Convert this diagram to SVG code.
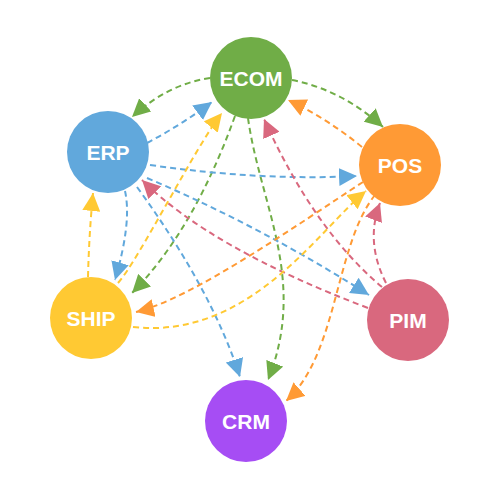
<svg xmlns="http://www.w3.org/2000/svg" width="500" height="500" viewBox="0 0 500 500">
<style>
.e{fill:none;stroke-width:2;stroke-dasharray:6,4}
.g{stroke:#70AD47}.b{stroke:#61A8DC}.o{stroke:#FF9A35}.r{stroke:#D9687E}.y{stroke:#FFC933}
.n text{fill:#fff;font-family:"Liberation Sans",Arial,sans-serif;font-weight:bold;font-size:21px;text-anchor:middle}
</style>
<defs>
<marker id="mg" markerUnits="userSpaceOnUse" markerWidth="19" markerHeight="18" refX="18" refY="9" orient="auto"><path d="M0,0L18,9L0,18Z" fill="#70AD47"/></marker>
<marker id="mb" markerUnits="userSpaceOnUse" markerWidth="19" markerHeight="18" refX="18" refY="9" orient="auto"><path d="M0,0L18,9L0,18Z" fill="#61A8DC"/></marker>
<marker id="mo" markerUnits="userSpaceOnUse" markerWidth="19" markerHeight="18" refX="18" refY="9" orient="auto"><path d="M0,0L18,9L0,18Z" fill="#FF9A35"/></marker>
<marker id="mr" markerUnits="userSpaceOnUse" markerWidth="19" markerHeight="18" refX="18" refY="9" orient="auto"><path d="M0,0L18,9L0,18Z" fill="#D9687E"/></marker>
<marker id="my" markerUnits="userSpaceOnUse" markerWidth="19" markerHeight="18" refX="18" refY="9" orient="auto"><path d="M0,0L18,9L0,18Z" fill="#FFC933"/></marker>
</defs>
<g id="connectors">
<path class="e g" marker-end="url(#mg)" d="M210,78 Q168,84 132,117"/>
<path class="e g" marker-end="url(#mg)" d="M292,80 Q342,90 383,127"/>
<path class="e g" marker-end="url(#mg)" d="M235,116 Q194,230 132,293"/>
<path class="e g" marker-end="url(#mg)" d="M248,118 C260,205 308,280 268,380"/>
<path class="e b" marker-end="url(#mb)" d="M147,143 Q181,125 212,102"/>
<path class="e b" marker-end="url(#mb)" d="M150,165 Q262,181 357,176"/>
<path class="e b" marker-end="url(#mb)" d="M125,191 Q132,222 115,280"/>
<path class="e b" marker-end="url(#mb)" d="M137,187 Q212,290 240,377"/>
<path class="e b" marker-end="url(#mb)" d="M147,178 Q262,227 369,295"/>
<path class="e o" marker-end="url(#mo)" d="M362,147 Q328,119 288,100"/>
<path class="e o" marker-end="url(#mo)" d="M363,182 C300,223 190,300 136,312"/>
<path class="e o" marker-end="url(#mo)" d="M375,195 C335,245 338,355 286,401"/>
<path class="e r" marker-end="url(#mr)" d="M382,287 Q314,230 264,119"/>
<path class="e r" marker-end="url(#mr)" d="M368,308 Q210,248 142,180"/>
<path class="e r" marker-end="url(#mr)" d="M386,283 Q365,242 380,203"/>
<path class="e y" marker-end="url(#my)" d="M88,277 Q89,235 93,193"/>
<path class="e y" marker-end="url(#my)" d="M118,283 C138,261 197,144 222,113"/>
<path class="e y" marker-end="url(#my)" d="M133,327 C250,340 320,228 366,191"/>
</g>
<g id="ECOM" class="n"><circle cx="251" cy="78" r="41" fill="#70AD47"/><text x="251" y="85.5">ECOM</text></g>
<g id="ERP" class="n"><circle cx="108" cy="152" r="41" fill="#61A8DC"/><text x="108" y="159.5">ERP</text></g>
<g id="POS" class="n"><circle cx="400" cy="165" r="41" fill="#FF9A35"/><text x="400" y="172.5">POS</text></g>
<g id="PIM" class="n"><circle cx="408" cy="320" r="41" fill="#D9687E"/><text x="408" y="327.5">PIM</text></g>
<g id="CRM" class="n"><circle cx="246" cy="421" r="41" fill="#A64DF4"/><text x="246" y="428.5">CRM</text></g>
<g id="SHIP" class="n"><circle cx="91" cy="318" r="41" fill="#FFC933"/><text x="91" y="325.5">SHIP</text></g>
</svg>
